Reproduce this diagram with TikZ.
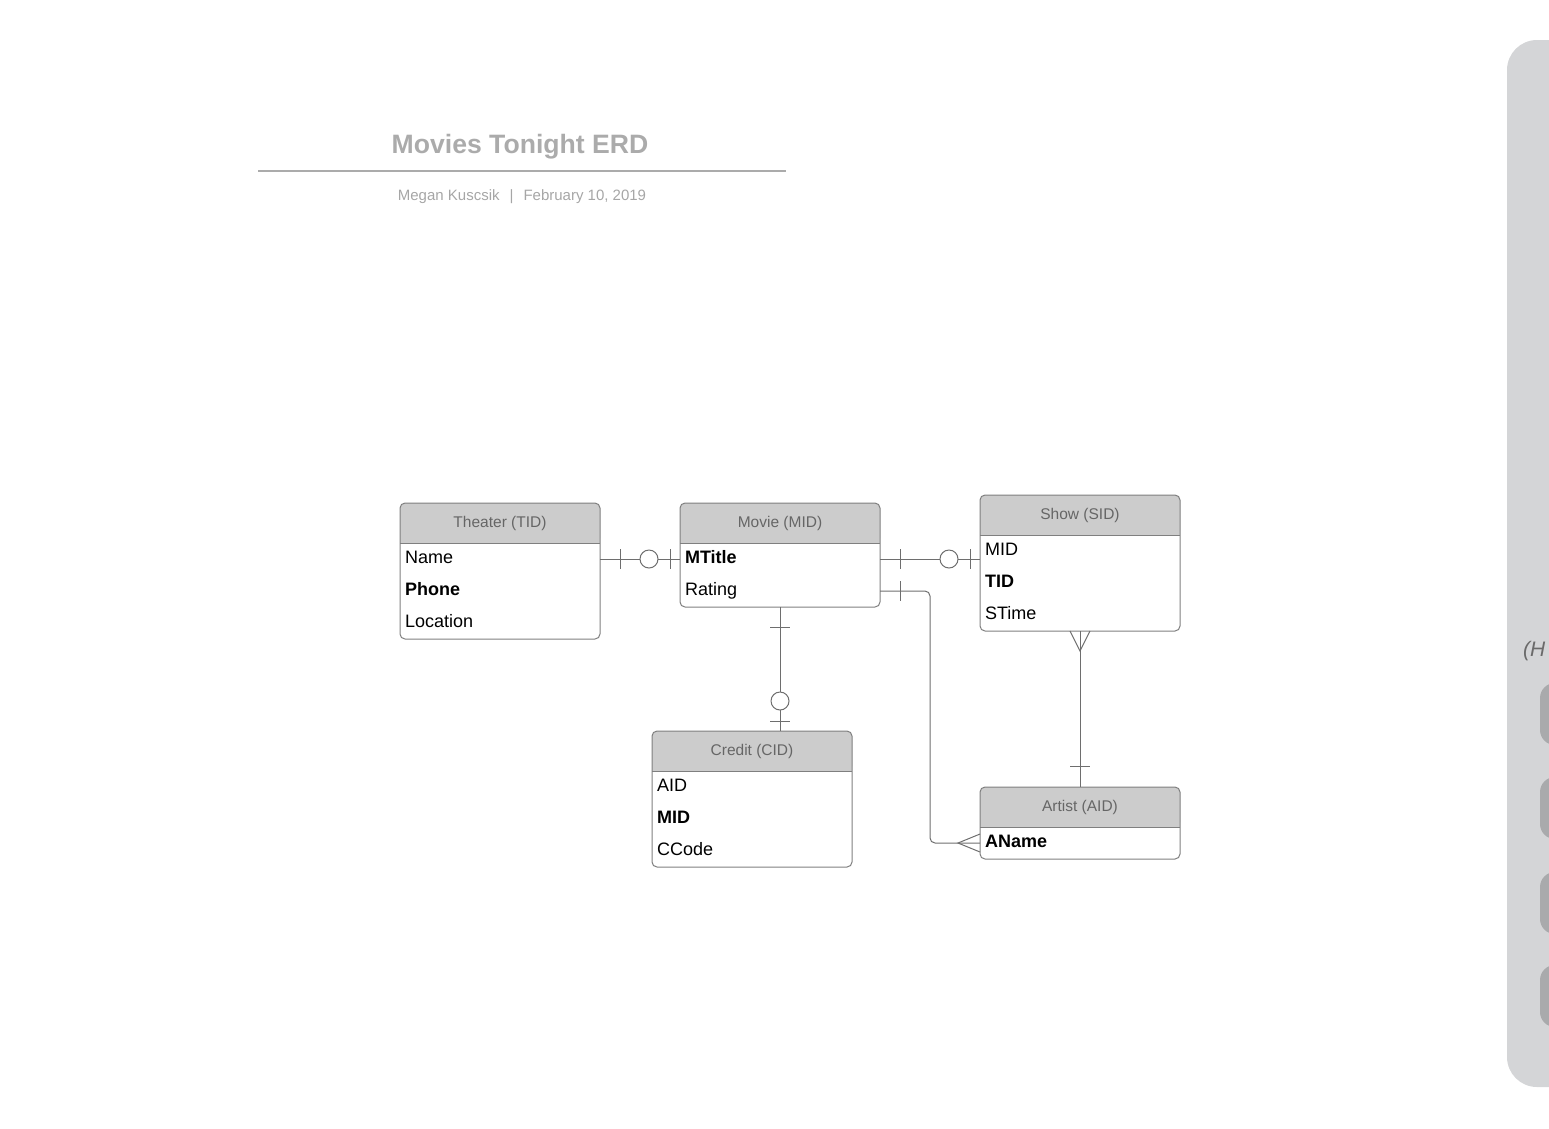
\documentclass[tikz,border=0pt]{standalone}
\usepackage{fontspec}
\setmainfont{Liberation Sans}
\usetikzlibrary{positioning}

\definecolor{hdrgray}{HTML}{CCCCCC}
\definecolor{hdrtext}{HTML}{666666}
\definecolor{boxgray}{HTML}{7F7F7F}
\definecolor{linegray}{HTML}{6E6E6E}
\definecolor{titlegray}{HTML}{ABABAB}
\definecolor{subgray}{HTML}{A6A6A6}
\definecolor{panelgray}{HTML}{D4D5D7}
\definecolor{btngray}{HTML}{A9AAAC}
\definecolor{hinttext}{HTML}{6A6A6A}

\newcommand{\keyfield}[1]{\textbf{#1}}
\newcommand{\tblframe}[2]{
  \fill[hdrgray] ([yshift=6pt]#1.south west) rectangle (#1.south east);
  \draw[box] (#1.north west) rectangle (#2.south east);
  \draw[boxgray, line width=1pt] (#1.south west) -- (#1.south east);
}
\newcommand{\vtick}[1]{\draw[rel] (#1) +(0,-10) -- +(0,10);}
\newcommand{\htick}[1]{\draw[rel] (#1) +(-10,0) -- +(10,0);}
\newcommand{\ring}[1]{\draw[rel, fill=white] (#1) circle (9pt);}

\begin{document}
\begin{tikzpicture}[x=1pt,y=-1pt]

\tikzstyle{tblhead}=[minimum width=200pt, minimum height=40pt, inner sep=0pt, outer sep=0pt,
  fill=hdrgray, rounded corners=5pt, text=hdrtext, font=\fontsize{15.5}{18}\selectfont]
\tikzstyle{tblrow}=[text width=190pt, inner xsep=5pt, inner ysep=0pt, minimum height=32pt,
  text height=12.5pt, text depth=4pt, outer sep=0pt, align=left, font=\fontsize{18}{21}\selectfont]
\tikzstyle{box}=[draw=boxgray, line width=1pt, rounded corners=5pt]
\tikzstyle{rel}=[draw=linegray, line width=1pt]

\useasboundingbox (0,0) rectangle (1549,1128);

% side panel
\fill[panelgray, rounded corners=30pt] (1507,40) rectangle (1620,1087);
\foreach \y in {683,777,872,965}
  \fill[btngray, rounded corners=15pt] (1540,\y) rectangle (1600,\y+62);
\node[anchor=west, inner sep=0pt, text=hinttext, font=\itshape\fontsize{21}{24}\selectfont] (hint) at (1523,651) {(H};

% title block
\node[text=titlegray, font=\bfseries\fontsize{26.6}{30}\selectfont] (title) at (520,147) {Movies Tonight ERD};
\coordinate (ruleL) at (258,171);
\coordinate (ruleR) at (786,171);
\draw[titlegray, line width=2pt] (ruleL) -- (ruleR);
\node[text=subgray, font=\fontsize{15}{18}\selectfont] (byline) at (522,197)
  {Megan Kuscsik\hspace{10pt}|\hspace{10pt}February 10, 2019};

% Theater
\node[tblhead] (theater) at (500,523) {Theater (TID)};
\node[tblrow, below=0pt of theater] (theater-name) {Name};
\node[tblrow, below=0pt of theater-name] (theater-phone) {\keyfield{Phone}};
\node[tblrow, below=0pt of theater-phone] (theater-loc) {Location};
\tblframe{theater}{theater-loc}

% Movie
\node[tblhead] (movie) at (780,523) {Movie (MID)};
\node[tblrow, below=0pt of movie] (movie-mtitle) {\keyfield{MTitle}};
\node[tblrow, below=0pt of movie-mtitle] (movie-rating) {Rating};
\tblframe{movie}{movie-rating}

% Show
\node[tblhead] (show) at (1080,515) {Show (SID)};
\node[tblrow, below=0pt of show] (show-mid) {MID};
\node[tblrow, below=0pt of show-mid] (show-tid) {\keyfield{TID}};
\node[tblrow, below=0pt of show-tid] (show-stime) {STime};
\tblframe{show}{show-stime}

% Credit
\node[tblhead] (credit) at (752,751) {Credit (CID)};
\node[tblrow, below=0pt of credit] (credit-aid) {AID};
\node[tblrow, below=0pt of credit-aid] (credit-mid) {\keyfield{MID}};
\node[tblrow, below=0pt of credit-mid] (credit-ccode) {CCode};
\tblframe{credit}{credit-ccode}

% Artist
\node[tblhead] (artist) at (1080,807) {Artist (AID)};
\node[tblrow, below=0pt of artist] (artist-aname) {\keyfield{AName}};
\tblframe{artist}{artist-aname}

% Theater -- Movie
\draw[rel] (theater-name.east) -- (movie-mtitle.west);
\vtick{[xshift=20pt]theater-name.east}
\ring{[xshift=-31pt]movie-mtitle.west}
\vtick{[xshift=-10pt]movie-mtitle.west}

% Movie -- Show
\draw[rel] (movie-mtitle.east) -- (movie-mtitle.east -| show-mid.west);
\vtick{[xshift=20pt]movie-mtitle.east}
\ring{[xshift=-31pt]movie-mtitle.east -| show-mid.west}
\vtick{[xshift=-10pt]movie-mtitle.east -| show-mid.west}

% Movie -- Credit
\draw[rel] (movie-rating.south) -- (movie-rating.south |- credit.north);
\htick{[yshift=-20pt]movie-rating.south}
\ring{[yshift=30pt]movie-rating.south |- credit.north}
\htick{[yshift=10pt]movie-rating.south |- credit.north}

% Movie -- Artist
\draw[rel, rounded corners=5pt] (movie-rating.east) -- ++(50,0) |- (artist-aname.west);
\vtick{[xshift=20pt]movie-rating.east}
\draw[rel] ([yshift=9pt]artist-aname.west) -- ([xshift=-22pt]artist-aname.west)
  -- ([yshift=-9pt]artist-aname.west);

% Show -- Artist
\draw[rel] (show-stime.south) -- (artist.north);
\draw[rel] ([xshift=-10pt]show-stime.south) -- ([yshift=-20pt]show-stime.south)
  -- ([xshift=10pt]show-stime.south);
\htick{[yshift=21pt]artist.north}

\end{tikzpicture}
\end{document}
